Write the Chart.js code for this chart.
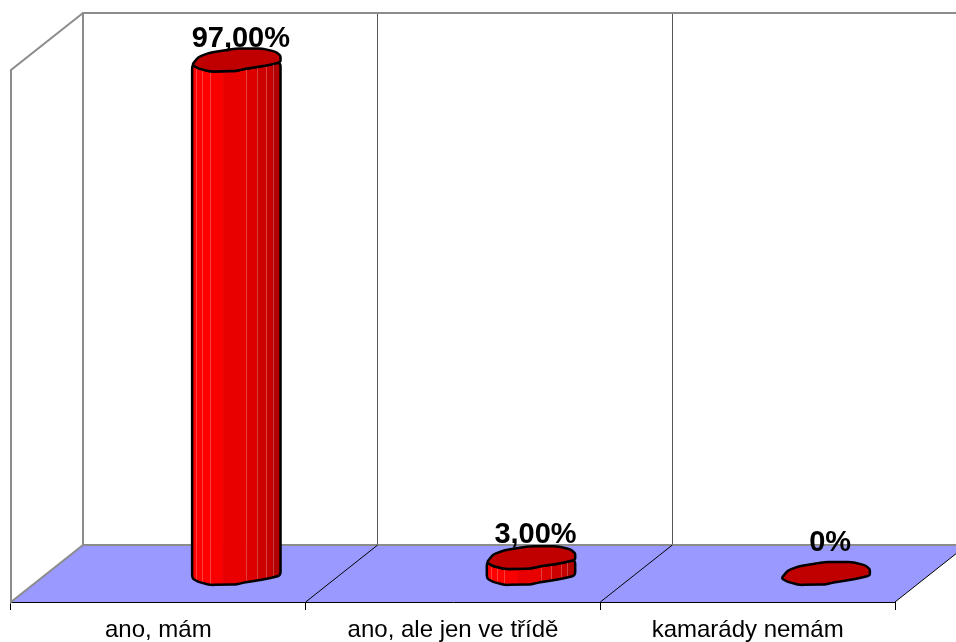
<!DOCTYPE html>
<html><head><meta charset="utf-8">
<style>html,body{margin:0;padding:0;background:#fff}canvas{display:block}</style>
<script src="https://cdn.jsdelivr.net/npm/chart.js@4"></script>
</head><body><canvas id="c" width="956" height="642"></canvas>
<script>
const categories = ['ano, mám', 'ano, ale jen ve třídě', 'kamarády nemám'];
const values = [97, 3, 0];
const valueLabels = ['97,00%', '3,00%', '0%'];
const labelLift = [13, 15, 23];

const depth = {x: 72, y: -57};
const barShift = {x: 78, y: -28.5};
const capShape = [[-1,.11],[-.86,.19],[-.59,.26],[-.02,.25],[.2,.2],[.66,.13],[1,.05],[1,-.1],[.89,-.19],[.59,-.26],[-.02,-.26],[-.59,-.17],[-.86,-.07]];
const stripes = [[0,'#ff0000'],[.045,'#ff0000'],[.11,'#ff0000'],[.2,'#f80000'],[.35,'#e80000'],[.61,'#dc0000'],[.73,'#cc0000'],[.84,'#c40000'],[.91,'#b00000']];
const glintAt = [.045,.11,.2,.61,.73,.84,.91];

function roundedPath(ctx, pts) {
  const n = pts.length;
  const cut = (a, b) => {
    const dx = b[0] - a[0], dy = b[1] - a[1];
    const d = Math.hypot(dx, dy) || 1;
    const c = Math.min(d * .25, 4);
    return [a[0] + dx / d * c, a[1] + dy / d * c];
  };
  ctx.beginPath();
  for (let i = 0; i < n; i++) {
    const p = pts[i], prev = pts[(i + n - 1) % n], next = pts[(i + 1) % n];
    const a = cut(p, prev), b = cut(p, next);
    if (i === 0) ctx.moveTo(a[0], a[1]); else ctx.lineTo(a[0], a[1]);
    ctx.quadraticCurveTo(p[0], p[1], b[0], b[1]);
  }
  ctx.closePath();
}

const scene = {
  id: 'scene',
  beforeDatasetsDraw(chart) {
    const {ctx, chartArea: a} = chart;
    const step = (a.right - a.left) / categories.length;
    const edges = categories.map((_, i) => a.left + step * i).concat(a.right);
    ctx.save();
    ctx.fillStyle = '#9999ff';
    ctx.beginPath();
    ctx.moveTo(a.left, a.bottom);
    ctx.lineTo(a.left + depth.x, a.bottom + depth.y);
    ctx.lineTo(a.right + depth.x, a.bottom + depth.y);
    ctx.lineTo(a.right, a.bottom);
    ctx.closePath();
    ctx.fill();
    ctx.strokeStyle = '#555';
    ctx.lineWidth = 1;
    [edges[1], edges[2]].forEach(x => {
      const px = Math.floor(x + depth.x) + .5;
      ctx.beginPath();
      ctx.moveTo(px, a.top + depth.y);
      ctx.lineTo(px, a.bottom + depth.y);
      ctx.stroke();
    });
    ctx.strokeStyle = '#8c8c8c';
    ctx.lineWidth = 2;
    ctx.beginPath();
    ctx.moveTo(a.left + depth.x, a.bottom + depth.y);
    ctx.lineTo(a.right + depth.x, a.bottom + depth.y);
    ctx.moveTo(a.right + depth.x, a.top + depth.y);
    ctx.lineTo(a.left + depth.x, a.top + depth.y);
    ctx.lineTo(a.left + depth.x, a.bottom + depth.y);
    ctx.lineTo(a.left, a.bottom);
    ctx.lineTo(a.left, a.top);
    ctx.lineTo(a.left + depth.x, a.top + depth.y);
    ctx.stroke();
    ctx.strokeStyle = '#000';
    ctx.lineWidth = 1;
    [edges[1], edges[2], edges[3]].forEach(x => {
      ctx.beginPath();
      ctx.moveTo(x, a.bottom);
      ctx.lineTo(x + depth.x, a.bottom + depth.y);
      ctx.stroke();
    });
    ctx.restore();
  },
  beforeDatasetDraw(chart, args) {
    const {ctx} = chart;
    ctx.save();
    ctx.lineJoin = 'round';
    ctx.lineCap = 'round';
    args.meta.data.forEach(el => {
      const cx = el.x + barShift.x;
      const top = el.y + barShift.y;
      const bottom = el.base + barShift.y;
      const hw = el.width / 2;
      const at = (yc, p) => [cx + p[0] * hw, yc + p[1] * 44];
      const front = capShape.slice(0, 7);
      if (bottom - top > 0.5) {
        const outline = front.map(p => at(bottom, p)).concat(front.slice().reverse().map(p => at(top, p)));
        ctx.save();
        roundedPath(ctx, outline);
        ctx.clip();
        const span = 2 * hw;
        stripes.forEach((s, k) => {
          const x0 = cx - hw + s[0] * span;
          const x1 = k + 1 < stripes.length ? cx - hw + stripes[k + 1][0] * span : cx + hw;
          ctx.fillStyle = s[1];
          ctx.fillRect(x0, top - 20, x1 - x0 + .5, bottom - top + 60);
        });
        ctx.fillStyle = 'rgba(255,170,170,.35)';
        glintAt.forEach(f => ctx.fillRect(Math.round(cx - hw + f * span), top - 20, 1, bottom - top + 60));
        ctx.restore();
        roundedPath(ctx, outline);
        ctx.strokeStyle = '#000';
        ctx.lineWidth = 2.5;
        ctx.stroke();
      }
      roundedPath(ctx, capShape.map(p => at(top, p)));
      ctx.fillStyle = '#c00000';
      ctx.fill();
      ctx.strokeStyle = '#000';
      ctx.lineWidth = 2.5;
      ctx.stroke();
    });
    ctx.restore();
    return false;
  },
  afterDatasetsDraw(chart) {
    const {ctx} = chart;
    const elems = chart.getDatasetMeta(0).data;
    ctx.save();
    ctx.font = 'bold 29px "Liberation Sans"';
    ctx.fillStyle = '#000';
    ctx.textAlign = 'center';
    ctx.textBaseline = 'alphabetic';
    elems.forEach((el, i) => {
      ctx.fillText(valueLabels[i], el.x + barShift.x + 4.5, el.y + barShift.y - labelLift[i]);
    });
    ctx.restore();
  }
};

new Chart(document.getElementById('c'), {
  type: 'bar',
  data: {labels: categories, datasets: [{data: values, backgroundColor: '#ff0000', categoryPercentage: 1, barPercentage: 0.3}]},
  options: {
    responsive: false,
    animation: false,
    layout: {padding: {left: 11, top: 70, right: 61, bottom: 0}},
    plugins: {legend: {display: false}, tooltip: {enabled: false}},
    scales: {
      y: {display: false, min: 0, max: 100.5},
      x: {
        afterFit(axis) { axis.height = 40; },
        border: {color: '#000', width: 1},
        grid: {drawOnChartArea: false, drawTicks: true, tickLength: 8, color: '#000', offset: true},
        ticks: {color: '#000', font: {family: '"Liberation Sans"', size: 24}, padding: 6, maxRotation: 0, autoSkip: false}
      }
    }
  },
  plugins: [scene]
});
</script></body></html>
